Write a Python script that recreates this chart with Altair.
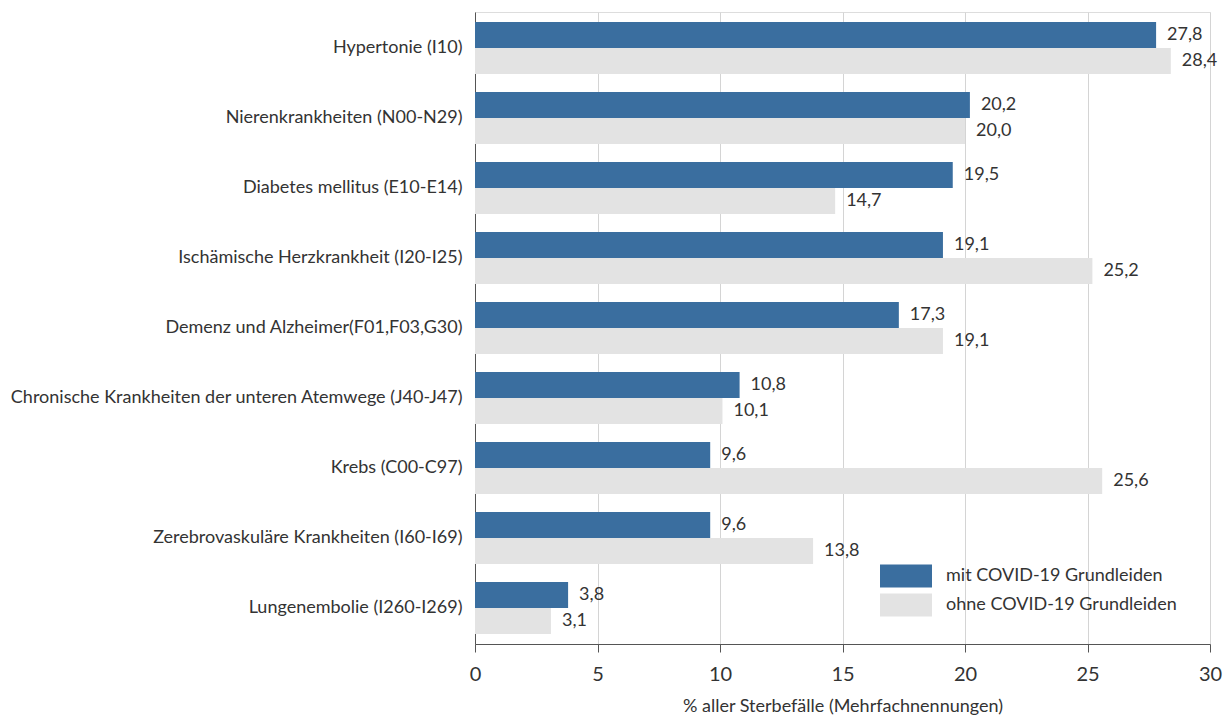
import altair as alt
import pandas as pd

categories = [
    "Hypertonie (I10)",
    "Nierenkrankheiten (N00-N29)",
    "Diabetes mellitus (E10-E14)",
    "Ischämische Herzkrankheit (I20-I25)",
    "Demenz und Alzheimer(F01,F03,G30)",
    "Chronische Krankheiten der unteren Atemwege (J40-J47)",
    "Krebs (C00-C97)",
    "Zerebrovaskuläre Krankheiten (I60-I69)",
    "Lungenembolie (I260-I269)",
]
series = ["mit COVID-19 Grundleiden", "ohne COVID-19 Grundleiden"]
mit_values = [27.8, 20.2, 19.5, 19.1, 17.3, 10.8, 9.6, 9.6, 3.8]
ohne_values = [28.4, 20.0, 14.7, 25.2, 19.1, 10.1, 25.6, 13.8, 3.1]
colors = ["#3a6e9f", "#e3e3e3"]

rows = []
for c, m, o in zip(categories, mit_values, ohne_values):
    rows.append({"cat": c, "series": series[0], "value": m})
    rows.append({"cat": c, "series": series[1], "value": o})
df = pd.DataFrame(rows)
df["label"] = df["value"].map(lambda v: f"{v:.1f}".replace(".", ","))

FONT = "Lato"
TXT = "#333333"

y_enc = alt.Y(
    "cat:N",
    sort=categories,
    title=None,
    scale=alt.Scale(paddingInner=0.257, paddingOuter=0.143),
    axis=alt.Axis(
        ticks=False,
        labelPadding=13,
        labelFontSize=18,
        labelColor=TXT,
        labelFont=FONT,
        domainColor="#555555",
        labelLimit=600,
    ),
)
yoff = alt.YOffset("series:N", sort=series, scale=alt.Scale(domain=series))

base = alt.Chart(df)

bars = base.mark_bar().encode(
    x=alt.X(
        "value:Q",
        scale=alt.Scale(domain=[0, 30], nice=False),
        title="% aller Sterbefälle (Mehrfachnennungen)",
        axis=alt.Axis(
            values=[0, 5, 10, 15, 20, 25, 30],
            grid=True,
            gridColor="#d4d4d4",
            domainColor="#555555",
            tickColor="#555555",
            tickSize=8,
            labelFlush=False,
            labelFontSize=20,
            labelColor=TXT,
            labelFont=FONT,
            labelPadding=12,
            titleFont=FONT,
            titleFontSize=18,
            titleFontWeight="normal",
            titleColor=TXT,
            titlePadding=13,
        ),
    ),
    y=y_enc,
    yOffset=yoff,
    color=alt.Color(
        "series:N",
        sort=series,
        scale=alt.Scale(domain=series, range=colors),
        legend=alt.Legend(
            title=None,
            orient="none",
            legendX=405,
            legendY=551,
            symbolType="M-1,-0.88H3V0.88H-1Z",
            symbolSize=676,
            symbolStrokeWidth=0,
            symbolOpacity=1,
            labelFont=FONT,
            labelFontSize=18,
            labelColor=TXT,
            labelOffset=40,
            rowPadding=4,
            padding=0,
            labelLimit=400,
        ),
    ),
)

texts = base.mark_text(
    align="left", baseline="middle", dx=11, fontSize=18, font=FONT, color=TXT
).encode(
    x="value:Q",
    y=alt.Y("cat:N", sort=categories),
    yOffset=yoff,
    text="label:N",
)

chart = (
    alt.layer(bars, texts)
    .properties(
        width=735,
        height=632,
        autosize=alt.AutoSizeParams(type="none"),
        padding={"left": 475, "top": 12, "right": 15, "bottom": 74},
    )
    .configure_view(stroke=None)
    .configure(background="white")
)

chart.save("out.html", embed_options={"renderer": "svg", "actions": False})
